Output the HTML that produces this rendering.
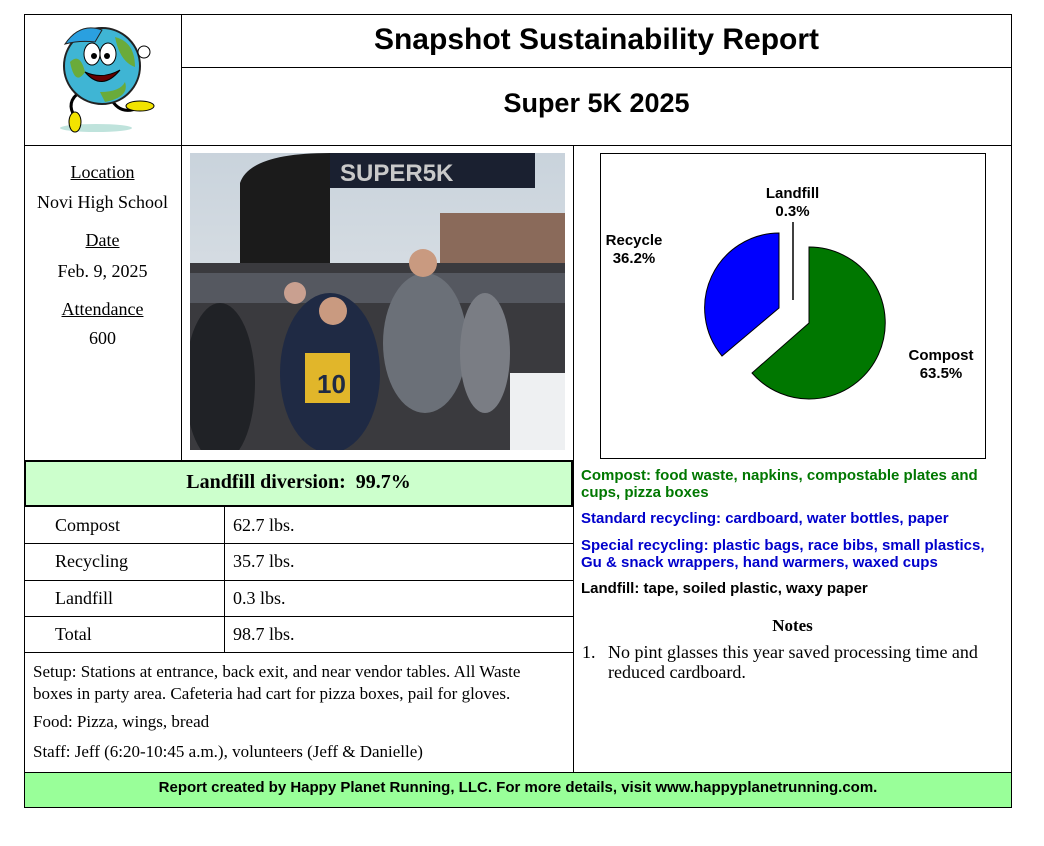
<!DOCTYPE html>
<html><head><meta charset="utf-8"><style>
body{margin:0;background:#fff;width:1044px;height:846px;position:relative;overflow:hidden;font-family:"Liberation Serif",serif;}
.a{position:absolute;}
.h{position:absolute;background:#000;height:1px;}
.v{position:absolute;background:#000;width:1px;}
.s{font-family:"Liberation Sans",sans-serif;font-weight:bold;font-size:15px;white-space:nowrap;}
.t{font-size:18px;white-space:nowrap;}
</style></head><body>
<div class="a" style="left:24px;top:14px;width:988px;height:794px;border:1px solid #000;box-sizing:border-box"></div>
<div class="v" style="left:181px;top:14px;height:131px"></div>
<div class="h" style="left:181px;top:67px;width:831px"></div>
<div class="h" style="left:24px;top:145px;width:988px"></div>
<div class="v" style="left:573px;top:145px;height:627px"></div>
<div class="v" style="left:181px;top:145px;height:315px"></div>
<div class="a" style="left:24px;top:460px;width:549px;height:47px;background:#ccffcc;border:2px solid #000;box-sizing:border-box"></div>
<div class="h" style="left:24px;top:543px;width:549px"></div>
<div class="h" style="left:24px;top:580px;width:549px"></div>
<div class="h" style="left:24px;top:616px;width:549px"></div>
<div class="h" style="left:24px;top:652px;width:549px"></div>
<div class="v" style="left:224px;top:507px;height:145px"></div>
<div class="a" style="left:24px;top:772px;width:988px;height:36px;background:#99ff99;border:1px solid #000;box-sizing:border-box"></div>

<div class="a s" style="left:181px;width:831px;top:23px;text-align:center;font-size:30px">Snapshot Sustainability Report</div>
<div class="a s" style="left:181px;width:831px;top:88px;text-align:center;font-size:27px">Super 5K 2025</div>

<svg class="a" style="left:40px;top:22px" width="130" height="115">
<ellipse cx="56" cy="106" rx="36" ry="4" fill="#bfe3dc"/>
<path d="M40 70 Q25 80 35 95" stroke="#000" stroke-width="3" fill="none"/>
<path d="M70 75 Q80 95 100 85" stroke="#000" stroke-width="3" fill="none"/>
<ellipse cx="35" cy="100" rx="6" ry="10" fill="#f2e300" stroke="#000"/>
<ellipse cx="100" cy="84" rx="14" ry="5" fill="#f2e300" stroke="#000"/>
<circle cx="62" cy="44" r="38" fill="#3fb5d4" stroke="#222" stroke-width="2"/>
<path d="M30 40 Q40 30 45 50 Q35 65 30 40Z M75 15 Q95 20 95 45 Q80 40 75 15Z M60 70 Q80 70 85 60 Q90 75 65 80Z" fill="#6aab3a"/>
<path d="M25 22 Q40 0 62 8 L55 20 Q40 18 25 22Z" fill="#2aa0e0" stroke="#222"/>
<ellipse cx="52" cy="32" rx="8" ry="11" fill="#fff" stroke="#000"/>
<ellipse cx="68" cy="32" rx="8" ry="11" fill="#fff" stroke="#000"/>
<circle cx="54" cy="34" r="3"/><circle cx="67" cy="34" r="3"/>
<path d="M45 50 Q62 70 80 48 Q62 58 45 50Z" fill="#600" stroke="#000"/>
<circle cx="104" cy="30" r="6" fill="#fff" stroke="#000"/>
</svg>

<div class="a t" style="left:24px;width:157px;text-align:center;top:162px;text-decoration:underline">Location</div>
<div class="a t" style="left:24px;width:157px;text-align:center;top:192px">Novi High School</div>
<div class="a t" style="left:24px;width:157px;text-align:center;top:230px;text-decoration:underline">Date</div>
<div class="a t" style="left:24px;width:157px;text-align:center;top:261px">Feb. 9, 2025</div>
<div class="a t" style="left:24px;width:157px;text-align:center;top:299px;text-decoration:underline">Attendance</div>
<div class="a t" style="left:24px;width:157px;text-align:center;top:328px">600</div>

<svg class="a" style="left:190px;top:153px" width="375" height="297">
<defs><linearGradient id="sk" x1="0" y1="0" x2="0" y2="1"><stop offset="0" stop-color="#c9d3dc"/><stop offset="1" stop-color="#e8eaec"/></linearGradient></defs>
<rect width="375" height="297" fill="url(#sk)"/>
<rect x="250" y="60" width="125" height="60" fill="#8a6a5a"/>
<rect x="140" y="0" width="205" height="35" fill="#1a2030"/>
<text x="150" y="28" font-family="Liberation Sans" font-weight="bold" font-size="24" fill="#c9c9c9">SUPER5K</text>
<path d="M50 297 L50 30 Q60 0 140 0 L140 120 L100 120 L100 297Z" fill="#1b1b1b"/>
<rect x="0" y="110" width="375" height="187" fill="#3a3a3e"/>
<rect x="320" y="220" width="55" height="77" fill="#eef0f2"/>
<rect x="0" y="120" width="375" height="30" fill="#555860"/>
<ellipse cx="140" cy="220" rx="50" ry="80" fill="#1f2a44"/>
<rect x="115" y="200" width="45" height="50" fill="#e1b62a"/>
<text x="127" y="240" font-family="Liberation Sans" font-weight="bold" font-size="26" fill="#1f2a44">10</text>
<ellipse cx="235" cy="190" rx="42" ry="70" fill="#6b7078"/>
<ellipse cx="30" cy="230" rx="35" ry="80" fill="#202226"/>
<ellipse cx="295" cy="200" rx="25" ry="60" fill="#7a7d84"/>
<circle cx="233" cy="110" r="14" fill="#c99a80"/>
<circle cx="143" cy="158" r="14" fill="#c99a80"/>
<circle cx="105" cy="140" r="11" fill="#c9a090"/>
</svg>

<div class="a" style="left:600px;top:153px;width:386px;height:306px;border:1px solid #000;box-sizing:border-box"></div>
<svg class="a" style="left:0;top:0" width="1044" height="846">
<path d="M809 323 L809 247 A76 76 0 1 1 752 373 Z" fill="#007700" stroke="#000" stroke-width="1"/>
<path d="M779 308 L722 356 A75 75 0 0 1 779 233 Z" fill="#0000ff" stroke="#000" stroke-width="1"/>
<line x1="793" y1="222" x2="793" y2="300" stroke="#000" stroke-width="1.5"/>
</svg>
<div class="a s" style="left:745px;width:95px;text-align:center;top:185px;line-height:18px">Landfill<br>0.3%</div>
<div class="a s" style="left:593px;width:82px;text-align:center;top:232px;line-height:18px">Recycle<br>36.2%</div>
<div class="a s" style="left:893px;width:96px;text-align:center;top:347px;line-height:18px">Compost<br>63.5%</div>

<div class="a t" style="left:24px;width:549px;text-align:center;top:471px;font-size:20px;font-weight:bold">Landfill diversion:&nbsp; 99.7%</div>
<div class="a t" style="left:55px;top:515px">Compost</div><div class="a t" style="left:233px;top:515px">62.7 lbs.</div>
<div class="a t" style="left:55px;top:551px">Recycling</div><div class="a t" style="left:233px;top:551px">35.7 lbs.</div>
<div class="a t" style="left:55px;top:588px">Landfill</div><div class="a t" style="left:233px;top:588px">0.3 lbs.</div>
<div class="a t" style="left:55px;top:624px">Total</div><div class="a t" style="left:233px;top:624px">98.7 lbs.</div>
<div class="a" style="left:33px;top:661px;width:530px;font-size:17px;line-height:22px">Setup: Stations at entrance, back exit, and near vendor tables. All Waste boxes in party area. Cafeteria had cart for pizza boxes, pail for gloves.</div>
<div class="a" style="left:33px;top:712px;font-size:17px">Food: Pizza, wings, bread</div>
<div class="a" style="left:33px;top:742px;font-size:17px">Staff: Jeff (6:20-10:45 a.m.), volunteers (Jeff &amp; Danielle)</div>

<div class="a s" style="left:581px;top:467px;color:#007700;line-height:17px;white-space:normal;width:405px">Compost: food waste, napkins, compostable plates and cups, pizza boxes</div>
<div class="a s" style="left:581px;top:510px;color:#0000cc">Standard recycling: cardboard, water bottles, paper</div>
<div class="a s" style="left:581px;top:537px;color:#0000cc;line-height:17px">Special recycling: plastic bags, race bibs, small plastics,<br>Gu &amp; snack wrappers, hand warmers, waxed cups</div>
<div class="a s" style="left:581px;top:580px">Landfill: tape, soiled plastic, waxy paper</div>
<div class="a" style="left:573px;width:439px;text-align:center;top:616px;font-size:17px;font-weight:bold">Notes</div>
<div class="a" style="left:582px;top:642px;font-size:18px">1.</div>
<div class="a" style="left:608px;top:642px;width:400px;font-size:18px;line-height:20px">No pint glasses this year saved processing time and reduced cardboard.</div>

<div class="a s" style="left:24px;width:988px;text-align:center;top:779px">Report created by Happy Planet Running, LLC. For more details, visit www.happyplanetrunning.com.</div>
</body></html>
